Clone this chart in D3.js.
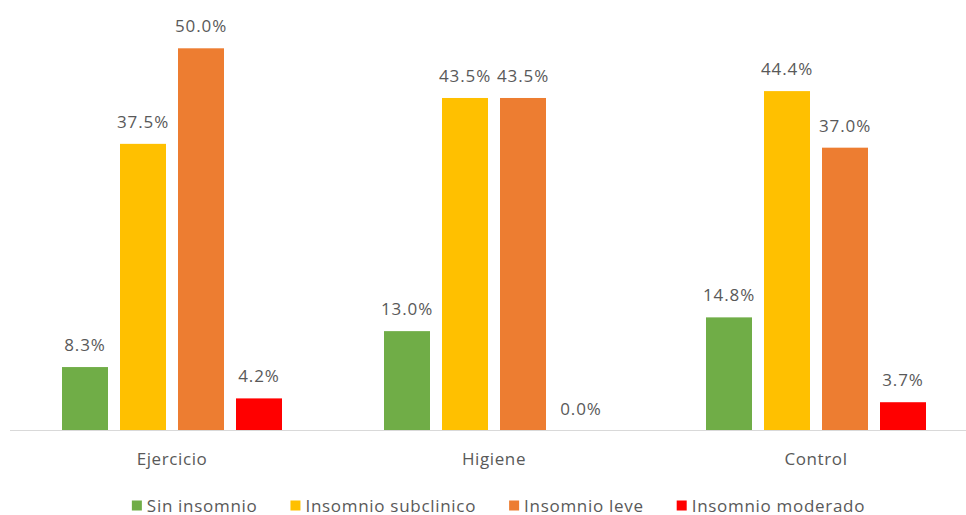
<!DOCTYPE html>
<html>
<head>
<meta charset="utf-8">
<script src="https://cdn.jsdelivr.net/npm/d3@7"></script>
<style>
  html, body { margin: 0; padding: 0; background: #fff; }
  svg text { font-family: "Open Sans", "Noto Sans", sans-serif; fill: #595959; }
</style>
</head>
<body>
<svg id="chart" width="966" height="515"></svg>
<script>
// Grupos y categorías de insomnio
const groups = ["Ejercicio", "Higiene", "Control"];
const seriesNames = ["Sin insomnio", "Insomnio subclinico", "Insomnio leve", "Insomnio moderado"];
const seriesColors = ["#70AD47", "#FFC000", "#ED7D31", "#FF0000"];

// Porcentajes por serie (en el orden de groups)
const sinInsomnio = [8.3, 13.0, 14.8];
const subclinico = [37.5, 43.5, 44.4];
const leve = [50.0, 43.5, 37.0];
const moderado = [4.2, 0.0, 3.7];

const seriesValues = [sinInsomnio, subclinico, leve, moderado];

const svg = d3.select("#chart");
const baseY = 430.5;

const x0 = d3.scaleBand().domain(groups).range([11, 977]).paddingInner(0).paddingOuter(0);
const x1 = d3.scaleBand().domain(seriesNames).range([51, x0.bandwidth() - 51]).paddingInner(12 / 58).paddingOuter(0);
const y = d3.scaleLinear().domain([0, 50]).range([baseY, 48.3]);

const rows = [];
groups.forEach((g, gi) => {
  seriesNames.forEach((s, si) => {
    rows.push({ group: g, series: s, si, value: seriesValues[si][gi] });
  });
});

// Barras
svg.append("g").selectAll("rect")
  .data(rows)
  .join("rect")
  .attr("x", d => x0(d.group) + x1(d.series))
  .attr("y", d => y(d.value))
  .attr("width", x1.bandwidth())
  .attr("height", d => baseY - y(d.value))
  .attr("fill", d => seriesColors[d.si]);

// Etiquetas de valor
svg.append("g").selectAll("text")
  .data(rows)
  .join("text")
  .attr("x", d => x0(d.group) + x1(d.series) + x1.bandwidth() / 2)
  .attr("y", d => y(d.value) - 16)
  .attr("text-anchor", "middle")
  .style("font-size", "17px")
  .style("letter-spacing", "0.9px")
  .text(d => d.value.toFixed(1) + "%");

// Eje horizontal
svg.append("line")
  .attr("x1", 10).attr("x2", 966)
  .attr("y1", baseY).attr("y2", baseY)
  .attr("stroke", "#D9D9D9").attr("stroke-width", 1.2);

const xAxis = d3.axisBottom(x0).tickSize(0).tickPadding(0);
const axisG = svg.append("g").attr("transform", `translate(0,${baseY})`).call(xAxis);
axisG.select(".domain").remove();
axisG.selectAll("text")
  .attr("y", 34)
  .attr("dy", 0)
  .style("font-size", "17px")
  .style("letter-spacing", "0.6px")
  .style("font-family", "'Open Sans', 'Noto Sans', sans-serif")
  .attr("fill", "#595959");

// Leyenda
const legend = svg.append("g");
const items = legend.selectAll("g")
  .data(seriesNames)
  .join("g");
items.append("rect")
  .attr("width", 10).attr("height", 10)
  .attr("y", 500.5)
  .attr("fill", (d, i) => seriesColors[i]);
items.append("text")
  .attr("x", 15)
  .attr("y", 511.5)
  .style("font-size", "17px")
  .style("letter-spacing", "0.7px")
  .text(d => d);

let cx = 0;
const offsets = [];
items.each(function () {
  const w = d3.select(this).select("text").node().getComputedTextLength();
  offsets.push(cx);
  cx += 15 + w + 33;
});
const totalW = cx - 33;
const startX = 498.5 - totalW / 2;
items.attr("transform", (d, i) => `translate(${startX + offsets[i]},0)`);
</script>
</body>
</html>
